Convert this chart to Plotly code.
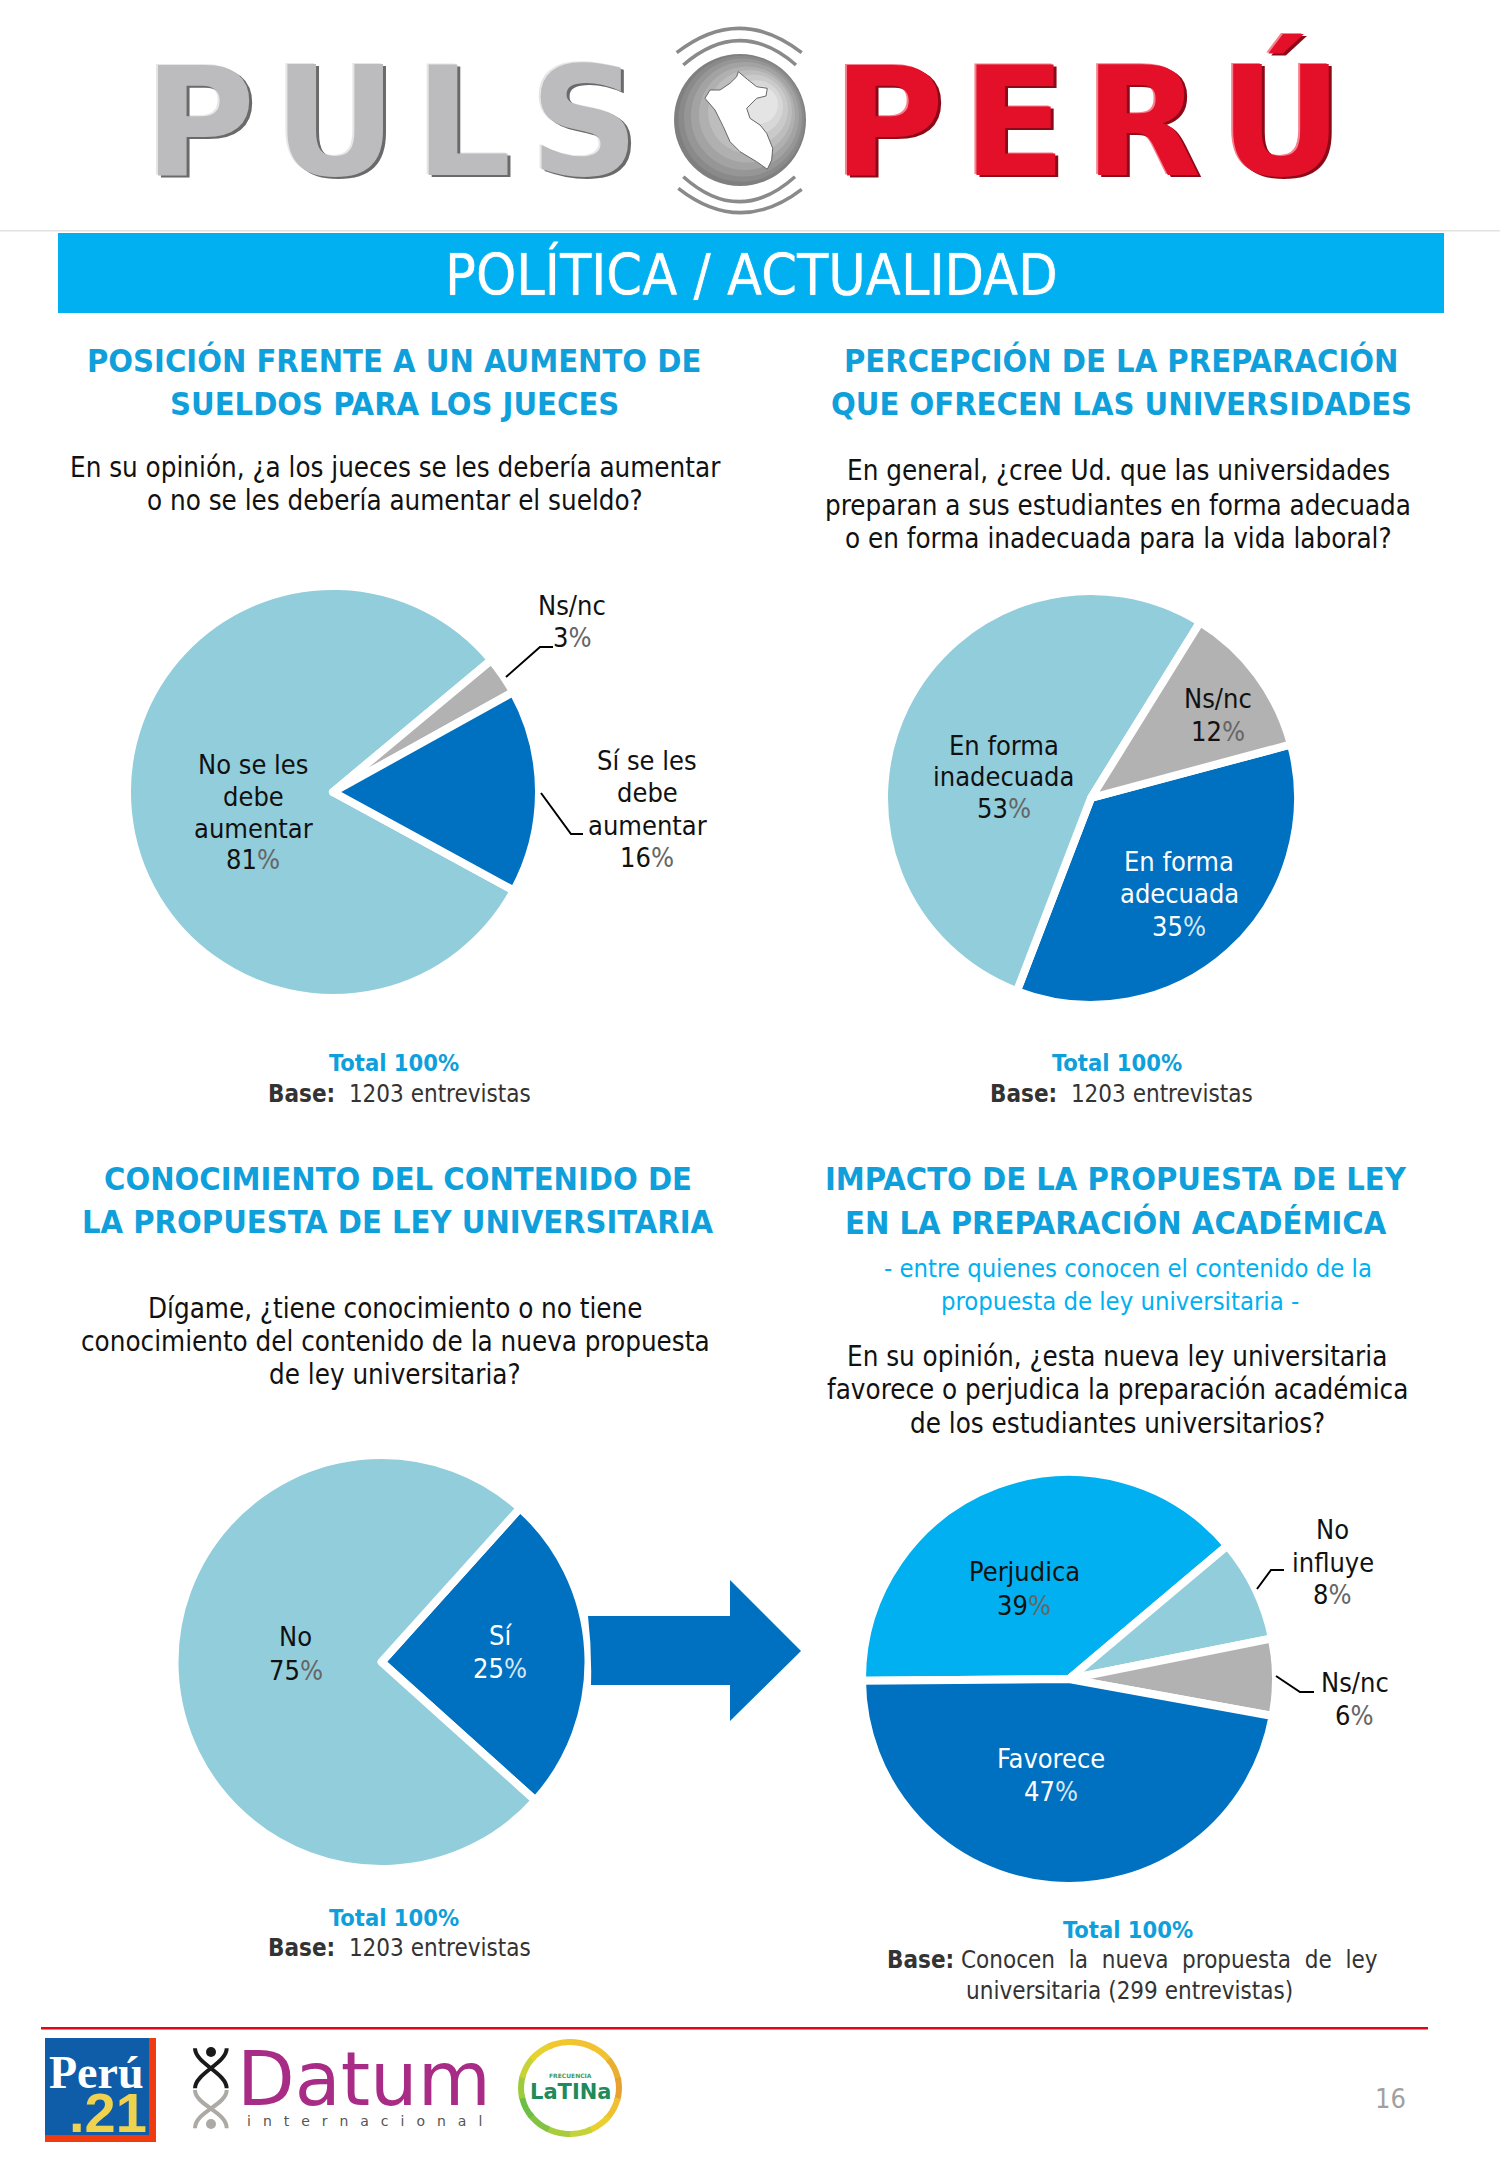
import numpy as np
import plotly.graph_objects as go

W, H = 1500, 2167
S = 1500 / 1085
BODY = "DejaVu Sans Condensed, DejaVu Sans, sans-serif"
LIGHTBLUE = "#92CDDC"
DARKBLUE = "#0070C0"
SKY = "#00B0F0"
GRAY = "#B2B2B2"
TITLE = "#0F9FDB"

# ---- data
p1_cats = ["No se les<br>debe<br>aumentar", "Ns/nc", "Sí se les<br>debe<br>aumentar"]
p1_vals = [81, 3, 16]
p1_cols = [LIGHTBLUE, GRAY, DARKBLUE]

p2_cats = ["En forma<br>adecuada", "En forma<br>inadecuada", "Ns/nc"]
p2_vals = [35, 53, 12]
p2_cols = [DARKBLUE, LIGHTBLUE, GRAY]

p3_cats = ["Sí", "No"]
p3_vals = [25, 75]
p3_cols = [DARKBLUE, LIGHTBLUE]

p4_cats = ["Perjudica", "No<br>influye", "Ns/nc", "Favorece"]
p4_vals = [39, 8, 6, 47]
p4_cols = [SKY, LIGHTBLUE, GRAY, DARKBLUE]

PIE_LW = 8
fig = go.Figure()


def pie(cats, vals, cols, cx, cy, r, rot):
    rr = r + PIE_LW / 2
    fig.add_trace(go.Pie(
        labels=[c.replace("<br>", " ") for c in cats], values=vals, sort=False, direction="clockwise",
        rotation=rot, textinfo="none", hoverinfo="skip", showlegend=False,
        marker=dict(colors=cols, line=dict(color="white", width=PIE_LW)),
        domain=dict(x=[(cx - rr) / W, (cx + rr) / W], y=[1 - (cy + rr) / H, 1 - (cy - rr) / H]),
    ))


pie(p1_cats, p1_vals, p1_cols, 333, 792, 202, 118.6)
pie(p2_cats, p2_vals, p2_cols, 1091, 798, 203, 75)
pie(p3_cats, p3_vals, p3_cols, 381.5, 1662, 203, 42)
pie(p4_cats, p4_vals, p4_cols, 1069, 1679, 203, 269.5)

ann, shp = [], []


def txt(x, y, s, size=27, color="#111111", bold=False, font=BODY, **kw):
    f = dict(size=size, color=color, family=font)
    if bold:
        f["weight"] = 700
    f.update(kw.pop("fx", {}))
    ann.append(dict(x=x, y=y, text=s, xref="x", yref="y", showarrow=False, xanchor="center",
                    yanchor="middle", font=f, **kw))


def st(x, y, s, **kw):  # coordinates read on the shrunken picture
    txt(x * S, y * S, s, **kw)


def plabel(x, ys, cat, val, color="#111111"):
    pc = "#D5E6F4" if color == "white" else "#666666"
    lines = cat.split("<br>") + [f'{val}<span style="color:{pc}">%</span>']
    for y, l in zip(ys, lines):
        st(x, y, l, color=color, size=27)


def line(pts, color="black", width=2):
    d = "M " + " L ".join(f"{x} {y}" for x, y in pts)
    shp.append(dict(type="path", path=d, line=dict(color=color, width=width), xref="x", yref="y"))


def path(d, fill=None, color=None, width=0, layer="above"):
    s = dict(type="path", path=d, xref="x", yref="y", layer=layer,
             line=dict(color=color or "rgba(0,0,0,0)", width=width))
    if fill:
        s["fillcolor"] = fill
    shp.append(s)


def rect(x0, y0, x1, y1, fill):
    shp.append(dict(type="rect", x0=x0, y0=y0, x1=x1, y1=y1, xref="x", yref="y",
                    fillcolor=fill, line=dict(width=0)))


def circle(cx, cy, rx, ry, fill, color=None, width=0):
    shp.append(dict(type="circle", x0=cx - rx, x1=cx + rx, y0=cy - ry, y1=cy + ry, xref="x", yref="y",
                    fillcolor=fill, line=dict(width=width, color=color or "rgba(0,0,0,0)")))


# ---- header logo
txt(400, 122, '<span style="letter-spacing:18px">PULS</span>', size=152, color="#BCBCBE", bold=True, font="DejaVu Sans",
    fx=dict(shadow="3px 2px 0 #6a6a6a, -2px -1px 0 #e6e6e6"))
txt(1097, 122, '<span style="letter-spacing:18px">PERÚ</span>', size=152, color="#E4102A", bold=True, font="DejaVu Sans",
    fx=dict(shadow="3px 2px 0 #8c0a18, -2px -1px 0 #f7808d"))
layers = [(66, "#7F7F7F", 0), (63, "#8A8A8A", 1.5), (59, "#969696", 3), (54, "#A3A3A3", 5), (48, "#B0B0B0", 7),
          (42, "#BDBDBD", 10), (35, "#CACACA", 13), (27, "#D7D7D7", 16), (19, "#E4E4E4", 19)]
for r, col, dx in layers:
    circle(740 + dx, 120 - dx * 0.8, r, r, col)
zx = lambda v: 660 + v / 3
zy = lambda v: 20 + v / 3
peru = [(235, 155), (262, 178), (290, 200), (322, 205), (318, 228), (290, 235), (260, 265), (270, 295), (300, 315),
        (320, 340), (338, 385), (335, 420), (322, 448), (290, 425), (240, 395), (210, 365), (190, 320), (165, 270),
        (135, 235), (150, 210), (180, 210), (210, 190), (230, 170)]
path("M " + " L ".join(f"{zx(a):.1f} {zy(b):.1f}" for a, b in peru) + " Z", fill="white", color="#666", width=1)
for x0, y0, x1, y1, apex in [(50, 98, 425, 98, 25), (70, 135, 408, 135, 62), (70, 470, 405, 470, 545), (55, 505, 425, 508, 578)]:
    cy_ = 2 * apex - (y0 + y1) / 2
    path(f"M {zx(x0):.1f} {zy(y0):.1f} Q {zx((x0 + x1) / 2):.1f} {zy(cy_):.1f} {zx(x1):.1f} {zy(y1):.1f}",
         color="#8A8A8A", width=3.5)

# separator and banner
rect(0, 230, W, 231.5, "#E2E2E2")
rect(58, 233, 1444, 313, SKY)
txt(751, 274, "POLÍTICA / ACTUALIDAD", size=57, color="white", fx=dict(shadow="0 0 1px #ffffff"))

# ---- titles and questions
def title(x, ys, lines):
    for y, l in zip(ys, lines):
        st(x, y, l, size=32.4, color=TITLE, bold=True)


def question(x, ys, lines):
    for y, l in zip(ys, lines):
        st(x, y, l, size=27.5, color="#111111")


def base(xt, yt, xb, yb, s):
    st(xt, yt, "Total 100%", size=23.5, color=TITLE, bold=True)
    st(xb, yb, f"<b>Base:</b>  {s}", size=24, color="#333333")


title(285, [261, 292], ["POSICIÓN FRENTE A UN AUMENTO DE", "SUELDOS PARA LOS JUECES"])
question(286, [338, 362], ["En su opinión, ¿a los jueces se les debería aumentar", "o no se les debería aumentar el sueldo?"])
base(285, 769, 289, 791, "1203 entrevistas")

title(811, [261, 292], ["PERCEPCIÓN DE LA PREPARACIÓN", "QUE OFRECEN LAS UNIVERSIDADES"])
question(809, [340, 365, 389], ["En general, ¿cree Ud. que las universidades", "preparan a sus estudiantes en forma adecuada",
                               "o en forma inadecuada para la vida laboral?"])
base(808, 769, 811, 791, "1203 entrevistas")

title(288, [853, 884], ["CONOCIMIENTO DEL CONTENIDO DE", "LA PROPUESTA DE LEY UNIVERSITARIA"])
question(286, [946, 970, 994], ["Dígame, ¿tiene conocimiento o no tiene", "conocimiento del contenido de la nueva propuesta",
                               "de ley universitaria?"])
base(285, 1387, 289, 1409, "1203 entrevistas")

title(807, [853, 884], ["IMPACTO DE LA PROPUESTA DE LEY", "EN LA PREPARACIÓN ACADÉMICA"])
st(816, 917, "- entre quienes conocen el contenido de la", size=25.4, color=SKY)
st(810, 941, "propuesta de ley universitaria -", size=25.4, color=SKY)
question(808, [981, 1005, 1029], ["En su opinión, ¿esta nueva ley universitaria", "favorece o perjudica la preparación académica",
                                  "de los estudiantes universitarios?"])
st(816, 1396, "Total 100%", size=23.5, color=TITLE, bold=True)
st(819, 1418, "<b>Base:</b> Conocen&#160; la&#160; nueva&#160; propuesta&#160; de&#160; ley", size=24, color="#333333")
st(817, 1440, "universitaria (299 entrevistas)", size=24, color="#333333")

# ---- pie labels
plabel(183, [553, 576, 599, 622], p1_cats[0], p1_vals[0])
plabel(414, [438, 461], p1_cats[1], p1_vals[1])
plabel(468, [550, 573, 597, 620], p1_cats[2], p1_vals[2])
line([(506, 677), (540, 647), (553, 647)])
line([(541, 793), (571, 834), (583, 834)])

plabel(853, [623, 646, 670], p2_cats[0], p2_vals[0], color="white")
plabel(726, [539, 562, 585], p2_cats[1], p2_vals[1])
plabel(881, [505, 529], p2_cats[2], p2_vals[2])

plabel(362, [1183, 1207], p3_cats[0], p3_vals[0], color="white")
plabel(214, [1184, 1208], p3_cats[1], p3_vals[1])

plabel(741, [1137, 1161], p4_cats[0], p4_vals[0])
plabel(964, [1106, 1130, 1153], p4_cats[1], p4_vals[1])
plabel(980, [1217, 1241], p4_cats[2], p4_vals[2])
plabel(760, [1272, 1296], p4_cats[3], p4_vals[3], color="white")
line([(1257, 1589), (1271, 1570), (1284, 1570)])
line([(1276, 1676), (1300, 1692), (1314, 1692)])

# arrow
path("M 588 1616 Q 592 1650 591 1685 L 730 1685 L 730 1721 L 801 1651 L 730 1580 L 730 1616 Z", fill=DARKBLUE)

# ---- footer
rect(41, 2027, 1428, 2029.5, "#E30613")
rect(45, 2038, 156, 2142, "#F03A10")
rect(45, 2038, 149, 2135, "#0F5CA8")
txt(96, 2072, "Perú", size=46, color="white", bold=True, font="Liberation Serif")
txt(108, 2112, ".21", size=56, color="#EFD34F", bold=True, font="Liberation Sans")

dz = lambda a, b: f"{170 + a / 3:.1f} {2030 + b / 3:.1f}"
for pts, col in [([(75, 55), (75, 100), (170, 130), (170, 175)], "#1A1A1A"), ([(170, 55), (170, 100), (75, 130), (75, 175)], "#1A1A1A"),
                 ([(75, 180), (75, 225), (170, 245), (170, 295)], "#ADA9A4"), ([(170, 180), (170, 225), (75, 245), (75, 295)], "#ADA9A4")]:
    path(f"M {dz(*pts[0])} C {dz(*pts[1])}, {dz(*pts[2])}, {dz(*pts[3])}", color=col, width=4)
circle(211, 2052, 5, 5, "#1A1A1A")
circle(211, 2124, 5, 5, "#ADA9A4")
txt(364, 2079, "Datum", size=75, color="#A82C86", font="DejaVu Sans")
txt(370, 2121, '<span style="letter-spacing:12px">internacional</span>', size=14, color="#555555", font="DejaVu Sans")

ring = ["#F2C230", "#F2C230", "#E8B030", "#E8A030", "#F0C030", "#E9D030", "#C5D33A", "#A8CC3C", "#82C341", "#6DBE45", "#9CCB3C", "#C9D235", "#E6D32F", "#F2C72E"]
n = len(ring)
for i, col in enumerate(ring):
    a0, a1 = 2 * np.pi * (i / n), 2 * np.pi * ((i + 1.15) / n)
    xs = 570 + 49 * np.sin(np.linspace(a0, a1, 6))
    ys = 2088 - 46 * np.cos(np.linspace(a0, a1, 6))
    path("M " + " L ".join(f"{x:.1f} {y:.1f}" for x, y in zip(xs, ys)), color=col, width=6)
txt(570, 2075, "FRECUENCIA", size=6, color="#3E9C5E", bold=True, font="DejaVu Sans")
txt(570, 2092, "LaTINa", size=21, color="#1F8A5B", bold=True, font="DejaVu Sans")

txt(1006 * S, 1518 * S, "16", size=27, color="#A0A0A0")

fig.update_layout(
    width=W, height=H, margin=dict(l=0, r=0, t=0, b=0), paper_bgcolor="white", plot_bgcolor="rgba(0,0,0,0)",
    xaxis=dict(range=[0, W], visible=False, domain=[0, 1], fixedrange=True),
    yaxis=dict(range=[H, 0], visible=False, domain=[0, 1], fixedrange=True),
    annotations=ann, shapes=shp, showlegend=False,
)
fig.write_html("out.html", config=dict(displayModeBar=False),
               post_script="document.body.style.margin='0';document.documentElement.style.overflow='hidden';")
